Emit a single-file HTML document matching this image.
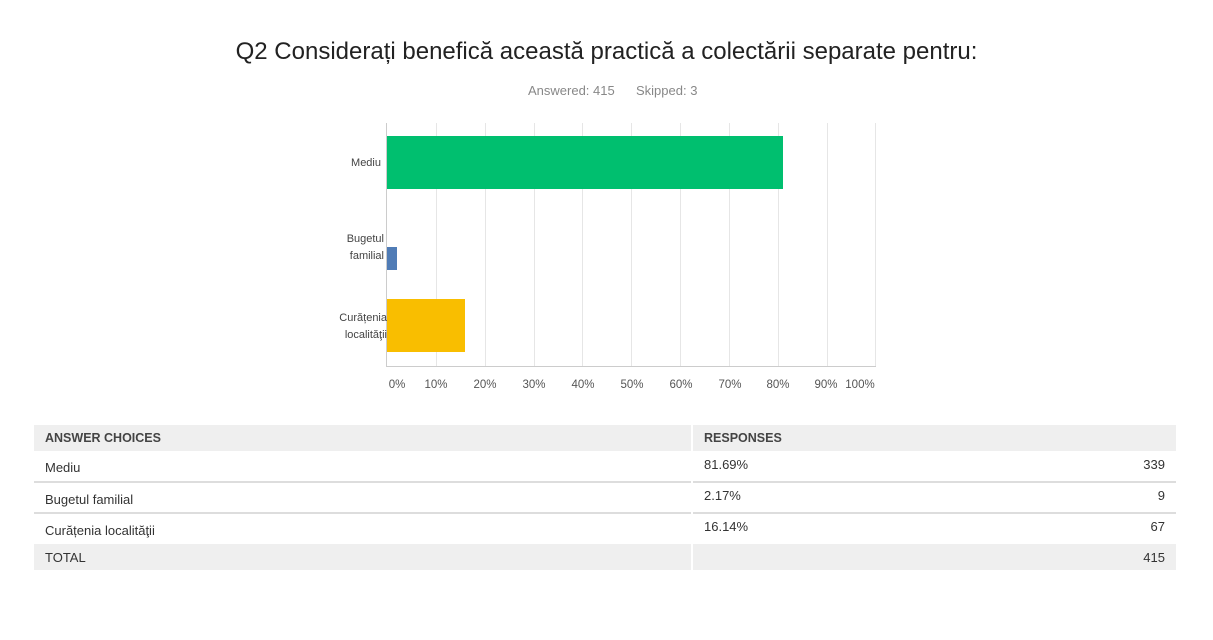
<!DOCTYPE html>
<html><head><meta charset="utf-8"><style>
body{margin:0;background:#fff;width:1213px;height:640px;position:relative;font-family:"Liberation Sans",sans-serif;overflow:hidden}
.t{position:absolute;white-space:nowrap}
.grid{position:absolute;top:123px;width:1px;height:243px;background:#e6e6e6}
.tick{position:absolute;top:379px;font-size:11.5px;color:#555;width:40px;text-align:center}
.lab{position:absolute;font-size:11px;color:#444;text-align:right;line-height:17px}
.c{position:absolute;font-size:13px;color:#333;white-space:nowrap}
.bg{position:absolute;background:#efefef}
.ln{position:absolute;height:2px;background:#ddd}
</style></head><body>
<div class="t" style="left:0;width:1213px;text-align:center;top:38px;font-size:24px;color:#222">Q2 Considerați benefică această practică a colectării separate pentru:</div>
<div class="t" style="left:528px;top:83px;font-size:13px;color:#888">Answered: 415</div>
<div class="t" style="left:636px;top:83px;font-size:13px;color:#888">Skipped: 3</div>

<div class="grid" style="left:436px"></div><div class="grid" style="left:485px"></div><div class="grid" style="left:534px"></div><div class="grid" style="left:582px"></div><div class="grid" style="left:631px"></div><div class="grid" style="left:680px"></div><div class="grid" style="left:729px"></div><div class="grid" style="left:778px"></div><div class="grid" style="left:827px"></div><div class="grid" style="left:875px"></div>
<div style="position:absolute;left:386px;top:123px;width:1px;height:244px;background:#ccc"></div>
<div style="position:absolute;left:386px;top:366px;width:490px;height:1px;background:#ccc"></div>
<div style="position:absolute;left:387px;top:136px;width:396px;height:53px;background:#00bf6f"></div>
<div style="position:absolute;left:387px;top:247px;width:10px;height:23px;background:#507cb6"></div>
<div style="position:absolute;left:387px;top:299px;width:78px;height:53px;background:#f9be00"></div>
<div class="lab" style="left:300px;width:81px;top:155px">Mediu</div>
<div class="lab" style="left:300px;width:84px;top:231px">Bugetul<br>familial</div>
<div class="lab" style="left:300px;width:87px;top:310px">Curățenia<br>localităţii</div>
<div class="tick" style="left:377px">0%</div><div class="tick" style="left:416px">10%</div><div class="tick" style="left:465px">20%</div><div class="tick" style="left:514px">30%</div><div class="tick" style="left:563px">40%</div><div class="tick" style="left:612px">50%</div><div class="tick" style="left:661px">60%</div><div class="tick" style="left:710px">70%</div><div class="tick" style="left:758px">80%</div><div class="tick" style="left:806px">90%</div><div class="tick" style="left:840px">100%</div>

<div class="bg" style="left:34px;top:425px;width:657px;height:26px"></div>
<div class="bg" style="left:693px;top:425px;width:483px;height:26px"></div>
<div class="c" style="left:45px;top:431px;font-weight:bold;font-size:12.5px;color:#444">ANSWER CHOICES</div>
<div class="c" style="left:704px;top:431px;font-weight:bold;font-size:12.5px;color:#444">RESPONSES</div>

<div class="c" style="left:45px;top:460px">Mediu</div>
<div class="c" style="left:704px;top:457px">81.69%</div>
<div class="c" style="left:1100px;width:65px;text-align:right;top:457px">339</div>
<div class="ln" style="left:34px;top:481px;width:657px"></div>
<div class="ln" style="left:693px;top:481px;width:483px"></div>

<div class="c" style="left:45px;top:492px">Bugetul familial</div>
<div class="c" style="left:704px;top:488px">2.17%</div>
<div class="c" style="left:1100px;width:65px;text-align:right;top:488px">9</div>
<div class="ln" style="left:34px;top:512px;width:657px"></div>
<div class="ln" style="left:693px;top:512px;width:483px"></div>

<div class="c" style="left:45px;top:523px">Curățenia localităţii</div>
<div class="c" style="left:704px;top:519px">16.14%</div>
<div class="c" style="left:1100px;width:65px;text-align:right;top:519px">67</div>

<div class="bg" style="left:34px;top:544px;width:657px;height:26px"></div>
<div class="bg" style="left:693px;top:544px;width:483px;height:26px"></div>
<div class="c" style="left:45px;top:550px">TOTAL</div>
<div class="c" style="left:1100px;width:65px;text-align:right;top:550px">415</div>
</body></html>
